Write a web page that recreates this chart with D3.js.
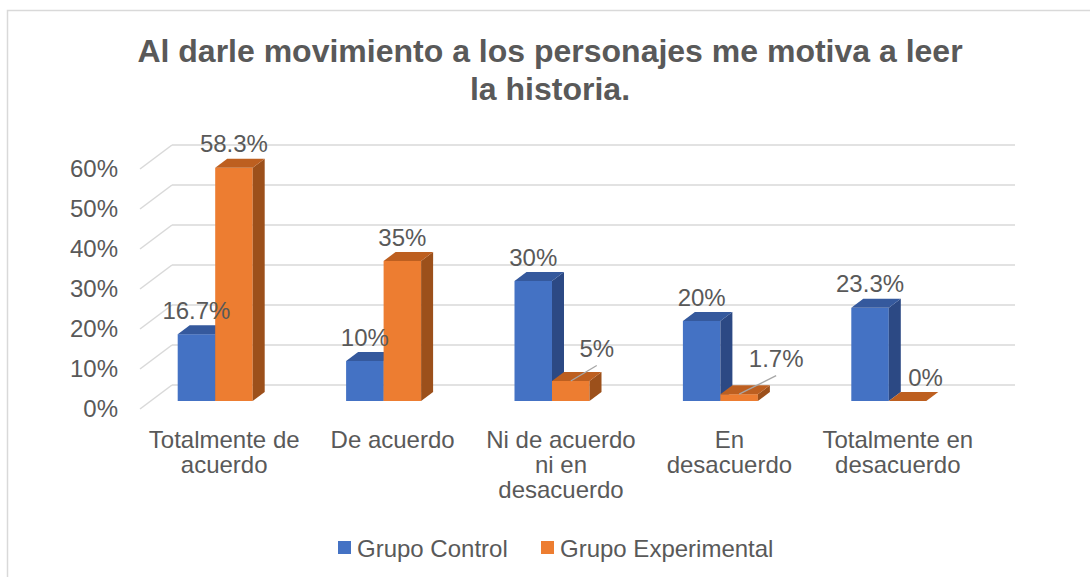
<!DOCTYPE html>
<html>
<head>
<meta charset="utf-8">
<script src="https://cdn.jsdelivr.net/npm/d3@7"></script>
<style>
  body { margin: 0; background: #fff; }
  text { font-family: "Liberation Sans", Arial, sans-serif; fill: #595959; }
</style>
</head>
<body>
<script>
// datos del grafico
var categories = ["Totalmente de acuerdo", "De acuerdo", "Ni de acuerdo ni en desacuerdo", "En desacuerdo", "Totalmente en desacuerdo"];
var categoryLines = [["Totalmente de", "acuerdo"], ["De acuerdo"], ["Ni de acuerdo", "ni en", "desacuerdo"], ["En", "desacuerdo"], ["Totalmente en", "desacuerdo"]];
var series = ["Grupo Control", "Grupo Experimental"];
var control = [16.7, 10, 30, 20, 23.3];
var experimental = [58.3, 35, 5, 1.7, 0];
var labelsControl = ["16.7%", "10%", "30%", "20%", "23.3%"];
var labelsExperimental = ["58.3%", "35%", "5%", "1.7%", "0%"];
var yTicks = [0, 10, 20, 30, 40, 50, 60];

var w = 1090;
var h = 577;

var colors = {
  "Grupo Control": { front: "#4472C4", top: "#35599d", side: "#2c4984" },
  "Grupo Experimental": { front: "#ED7D31", top: "#bd5f20", side: "#9c501b" }
};

var svg = d3.select("body")
            .append("svg")
            .attr("width", w)
            .attr("height", h);

// borde del area del grafico
svg.append("rect")
   .attr("x", 7.5).attr("y", 10.5)
   .attr("width", 1200).attr("height", 700)
   .attr("fill", "none")
   .attr("stroke", "#d9d9d9")
   .attr("stroke-width", 1.5);

// titulo
var title = svg.append("text")
               .attr("text-anchor", "middle")
               .style("font-size", "32px")
               .style("font-weight", "bold");
title.append("tspan").attr("x", 550).attr("y", 62).text("Al darle movimiento a los personajes me motiva a leer");
title.append("tspan").attr("x", 550).attr("y", 100).text("la historia.");

// escalas
var hScale = d3.scaleLinear().domain([0, 60]).range([0, 240]);
var x = d3.scaleBand().domain(categories).range([140, 982]);
var xs = d3.scaleBand().domain(series).range([-46.5, 28.5]);

var frontZero = 409;   // piso frontal
var backZero = 385;    // pared del fondo
var backLeft = 172;
var backRight = 1015;
var baseY = 401;       // base de las barras
var dx = 12, dy = -9;  // profundidad de cada barra

// lineas de la cuadricula
var grid = svg.append("g");
grid.selectAll("line.back")
    .data(yTicks)
    .enter().append("line")
    .attr("x1", backLeft).attr("x2", backRight)
    .attr("y1", function(d) { return backZero - hScale(d); })
    .attr("y2", function(d) { return backZero - hScale(d); })
    .attr("stroke", "#d9d9d9").attr("stroke-width", 1.5);
grid.selectAll("line.side")
    .data(yTicks)
    .enter().append("line")
    .attr("x1", 140).attr("x2", backLeft)
    .attr("y1", function(d) { return frontZero - hScale(d); })
    .attr("y2", function(d) { return backZero - hScale(d); })
    .attr("stroke", "#d9d9d9").attr("stroke-width", 1.5);

// etiquetas del eje y
svg.selectAll("text.ytick")
   .data(yTicks)
   .enter().append("text")
   .attr("x", 118)
   .attr("y", function(d) { return frontZero - hScale(d) + 8; })
   .attr("text-anchor", "end")
   .style("font-size", "24px")
   .text(function(d) { return d + "%"; });

// barras 3D
function drawBar(g, x0, bw, v, c) {
  var top = baseY - hScale(v);
  if (v > 0) {
    g.append("rect")
     .attr("x", x0).attr("y", top)
     .attr("width", bw).attr("height", hScale(v))
     .attr("fill", c.front);
    g.append("path")
     .attr("d", "M" + (x0 + bw) + "," + top + "l" + dx + "," + dy + "v" + hScale(v) + "l" + (-dx) + "," + (-dy) + "z")
     .attr("fill", c.side);
  }
  g.append("path")
   .attr("d", "M" + x0 + "," + top + "l" + dx + "," + dy + "h" + bw + "l" + (-dx) + "," + (-dy) + "z")
   .attr("fill", c.top);
}

var bars = svg.append("g");
categories.forEach(function(cat, i) {
  var cx = x(cat) + x.bandwidth() / 2;
  drawBar(bars, cx + xs("Grupo Control"), xs.bandwidth(), control[i], colors["Grupo Control"]);
  drawBar(bars, cx + xs("Grupo Experimental"), xs.bandwidth(), experimental[i], colors["Grupo Experimental"]);
});

// etiquetas de datos (desplazadas donde la barra es baja)
var nudgeExp = [null, null, { dx: 26, dy: -9, leader: true }, { dx: 37, dy: -12, leader: true }, { dx: 18, dy: 0, leader: false }];

var labels = svg.append("g").style("font-size", "24px");
categories.forEach(function(cat, i) {
  var cx = x(cat) + x.bandwidth() / 2;
  var bw = xs.bandwidth();
  var bx = cx + xs("Grupo Control") + bw / 2;
  labels.append("text")
        .attr("x", bx)
        .attr("y", baseY - hScale(control[i]) + dy - 6.5)
        .attr("text-anchor", "middle")
        .text(labelsControl[i]);

  var ox = cx + xs("Grupo Experimental") + bw / 2;
  var oy = baseY - hScale(experimental[i]) + dy - 6.5;
  var n = nudgeExp[i] || { dx: 0, dy: 0, leader: false };
  if (n.leader) {
    labels.append("line")
          .attr("x1", ox).attr("y1", baseY - hScale(experimental[i]))
          .attr("x2", ox + n.dx).attr("y2", oy + n.dy + 9)
          .attr("stroke", "#a6a6a6").attr("stroke-width", 1.3);
  }
  labels.append("text")
        .attr("x", ox + n.dx)
        .attr("y", oy + n.dy)
        .attr("text-anchor", "middle")
        .text(labelsExperimental[i]);
});

// etiquetas de categorias
var catG = svg.append("g").style("font-size", "24px");
categories.forEach(function(cat, i) {
  var t = catG.append("text").attr("text-anchor", "middle");
  categoryLines[i].forEach(function(line, j) {
    t.append("tspan")
     .attr("x", x(cat) + x.bandwidth() / 2)
     .attr("y", 448 + j * 25)
     .text(line);
  });
});

// leyenda
var legendX = [338, 541];
var legend = svg.append("g");
series.forEach(function(s, i) {
  legend.append("rect")
        .attr("x", legendX[i]).attr("y", 541)
        .attr("width", 13).attr("height", 13)
        .attr("fill", colors[s].front);
  legend.append("text")
        .attr("x", legendX[i] + 19).attr("y", 557)
        .style("font-size", "24px")
        .text(s);
});
</script>
</body>
</html>
